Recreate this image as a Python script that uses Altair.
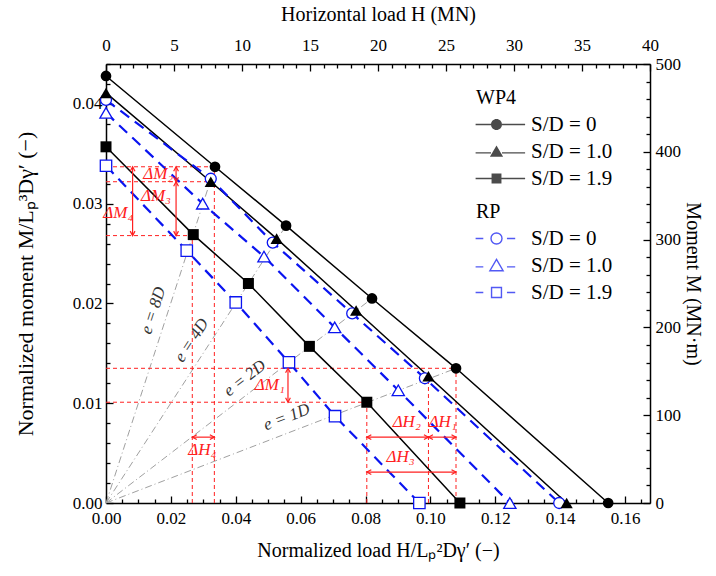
import altair as alt
import pandas as pd

FONT = "Liberation Serif"
BLUE = "#0a14f0"
RED = "#ff2020"

# ---------------- data (normalized H, normalized M) ----------------
wp_names = ["S/D = 0", "S/D = 1.0", "S/D = 1.9"]
rp_names = ["S/D = 0 ", "S/D = 1.0 ", "S/D = 1.9 "]

wp0_h = [0.0, 0.0336, 0.0555, 0.0820, 0.1079, 0.1548]
wp0_m = [0.0428, 0.0337, 0.0278, 0.0205, 0.0135, 0.0]
wp1_h = [0.0, 0.0323, 0.0526, 0.0771, 0.0994, 0.1420]
wp1_m = [0.0411, 0.0322, 0.0265, 0.0193, 0.0127, 0.0]
wp2_h = [0.0, 0.0269, 0.0439, 0.0627, 0.0804, 0.1091]
wp2_m = [0.0357, 0.0269, 0.0220, 0.0157, 0.0101, 0.0]

rp0_h = [0.0, 0.0323, 0.0514, 0.0759, 0.0983, 0.1397]
rp0_m = [0.0404, 0.0325, 0.0261, 0.0190, 0.0125, 0.0]
rp1_h = [0.0, 0.0298, 0.0487, 0.0705, 0.0901, 0.1245]
rp1_m = [0.0391, 0.0300, 0.0247, 0.0176, 0.0113, 0.0]
rp2_h = [0.0, 0.0249, 0.0400, 0.0564, 0.0706, 0.0966]
rp2_m = [0.0338, 0.0253, 0.0201, 0.0141, 0.0087, 0.0]

# eccentricity rays (origin -> end point)
ray_labels = ["e = 8D", "e = 4D", "e = 2D", "e = 1D"]
ray_h_end = [0.0336, 0.0555, 0.0820, 0.1079]
ray_m_end = [0.0337, 0.0278, 0.0205, 0.0135]
ray_lab_h = [0.0146, 0.0264, 0.0428, 0.0557]
ray_lab_m = [0.0193, 0.0163, 0.0125, 0.0086]
ray_lab_angle = [288, 303, 322, 339]

# red dashed guide segments
guide_x1 = [0.0, 0.0, 0.0, 0.0266, 0.0334, 0.0, 0.0, 0.0804, 0.0994, 0.1079]
guide_x2 = [0.0336, 0.0323, 0.0269, 0.0266, 0.0334, 0.1079, 0.0804, 0.0804, 0.0994, 0.1079]
guide_y1 = [0.0337, 0.0322, 0.0268, 0.0, 0.0, 0.0135, 0.0101, 0.0, 0.0, 0.0]
guide_y2 = [0.0337, 0.0322, 0.0268, 0.0268, 0.0337, 0.0135, 0.0101, 0.0101, 0.0127, 0.0135]

# red double arrows
arrow_names = ["ΔM₂", "ΔM₃", "ΔM₄", "ΔM₁", "ΔH₄", "ΔH₂", "ΔH₁", "ΔH₃"]
arrow_x1 = [0.0216, 0.0216, 0.0082, 0.0561, 0.0266, 0.0804, 0.0994, 0.0804]
arrow_x2 = [0.0216, 0.0216, 0.0082, 0.0561, 0.0334, 0.0994, 0.1079, 0.1079]
arrow_y1 = [0.0337, 0.0322, 0.0337, 0.0135, 0.0066, 0.0066, 0.0066, 0.0031]
arrow_y2 = [0.0322, 0.0268, 0.0268, 0.0101, 0.0066, 0.0066, 0.0066, 0.0031]
arrow_lab_h = [0.0161, 0.0154, 0.0038, 0.0505, 0.0297, 0.0927, 0.1038, 0.0908]
arrow_lab_m = [0.0330, 0.0308, 0.0291, 0.0118, 0.0053, 0.0081, 0.0081, 0.0046]

# axis ticks
x_ticks = [round(i * 0.005, 3) for i in range(34)]
y_ticks = [round(i * 0.002, 3) for i in range(23)]
top_ticks = list(range(0, 41))
right_ticks = list(range(0, 501, 20))

X_MAX = 0.1677
Y_MAX = 0.044

# ---------------- tables ----------------
rows = []
for grp, names, hs_list, ms_list in [
    ("WP4", wp_names, [wp0_h, wp1_h, wp2_h], [wp0_m, wp1_m, wp2_m]),
    ("RP", rp_names, [rp0_h, rp1_h, rp2_h], [rp0_m, rp1_m, rp2_m]),
]:
    for n, hs, ms in zip(names, hs_list, ms_list):
        for h, m in zip(hs, ms):
            rows.append({"group": grp, "series": n, "x": h, "y": m})
df = pd.DataFrame(rows)

df_rays = pd.DataFrame({"x": [0.0] * 4, "y": [0.0] * 4, "x2": ray_h_end, "y2": ray_m_end})
df_raylab = pd.DataFrame({"t": ray_labels, "x": ray_lab_h, "y": ray_lab_m, "a": ray_lab_angle})
df_guides = pd.DataFrame({"x": guide_x1, "x2": guide_x2, "y": guide_y1, "y2": guide_y2})
df_arrows = pd.DataFrame({"x": arrow_x1, "x2": arrow_x2, "y": arrow_y1, "y2": arrow_y2})
df_arrlab = pd.DataFrame({"t": arrow_names, "x": arrow_lab_h, "y": arrow_lab_m})

heads = []
for x1, x2, y1, y2 in zip(arrow_x1, arrow_x2, arrow_y1, arrow_y2):
    if x1 == x2:
        heads.append({"x": x1, "y": y1, "d": "up"})
        heads.append({"x": x2, "y": y2, "d": "down"})
    else:
        heads.append({"x": x1, "y": y1, "d": "left"})
        heads.append({"x": x2, "y": y2, "d": "right"})
df_heads = pd.DataFrame(heads)

# ---------------- scales / axes ----------------
xscale = alt.Scale(domain=[0, X_MAX], nice=False, zero=False)
yscale = alt.Scale(domain=[0, Y_MAX], nice=False, zero=False)

common_axis = dict(
    grid=False, labelFont=FONT, labelFontSize=17, titleFont=FONT,
    titleFontWeight="normal", domainColor="black", tickColor="black", domainWidth=1.5,
    tickWidth=1.3, labelColor="black", titleColor="black", labelFlush=False,
    labelOverlap=False,
)

x_axis = alt.Axis(
    orient="bottom", values=x_ticks, title="Normalized load H/Lₚ²Dγ′ (−)",
    labelExpr="round(datum.value*1000) % 20 === 0 ? format(datum.value, '.2f') : ''",
    tickSize={"condition": {"test": "round(datum.value*1000) % 20 === 0", "value": -7}, "value": -4},
    labelPadding=14, titlePadding=11, titleFontSize=20, **common_axis)
y_axis = alt.Axis(
    orient="left", values=y_ticks, title="Normalized moment M/Lₚ³Dγ′ (−)",
    labelExpr="round(datum.value*1000) % 10 === 0 ? format(datum.value, '.2f') : ''",
    tickSize={"condition": {"test": "round(datum.value*1000) % 10 === 0", "value": -7}, "value": -4},
    labelPadding=11, titlePadding=35, titleFontSize=22, **common_axis)
top_axis = alt.Axis(
    orient="top", values=top_ticks, title="Horizontal load H (MN)",
    labelExpr="datum.value % 5 === 0 ? format(datum.value, 'd') : ''",
    tickSize={"condition": {"test": "datum.value % 5 === 0", "value": -7}, "value": -4},
    labelPadding=17, titlePadding=9, titleFontSize=20, **common_axis)
right_axis = alt.Axis(
    orient="right", values=right_ticks, title="Moment M (MN·m)",
    labelExpr="datum.value % 100 === 0 ? format(datum.value, 'd') : ''",
    tickSize={"condition": {"test": "datum.value % 100 === 0", "value": -7}, "value": -4},
    labelPadding=12, titlePadding=2, titleFontSize=20, **common_axis)


def X(f="x"):
    return alt.X(f + ":Q", scale=xscale, axis=x_axis)


def Y(f="y"):
    return alt.Y(f + ":Q", scale=yscale, axis=y_axis)


# ---------------- layers ----------------
guides = alt.Chart(df_guides).mark_rule(color=RED, strokeDash=[4, 3], strokeWidth=1).encode(
    x=X(), x2="x2:Q", y=Y(), y2="y2:Q")

rays = alt.Chart(df_rays).mark_rule(color="#a0a0a0", strokeDash=[7, 3, 1, 3], strokeWidth=1).encode(
    x=X(), x2="x2:Q", y=Y(), y2="y2:Q")

ray_text = alt.Chart(df_raylab).mark_text(font=FONT, fontSize=17, fontStyle="italic", color="#333333").encode(
    x=X(), y=Y(), text="t:N", angle=alt.Angle("a:Q", scale=None))

wp_lines = alt.Chart(df).transform_filter("datum.group === 'WP4'").mark_line(
    color="black", strokeWidth=1.5).encode(x=X(), y=Y(), detail="series:N")
rp_lines = alt.Chart(df).transform_filter("datum.group === 'RP'").mark_line(
    color=BLUE, strokeWidth=2.2, strokeDash=[11, 7]).encode(x=X(), y=Y(), detail="series:N")

marker_layers = []
for n, shp, sz in zip(rp_names, ["circle", "triangle-up", "square"], [120, 150, 130]):
    marker_layers.append(
        alt.Chart(df).transform_filter(alt.datum.series == n).mark_point(
            shape=shp, size=sz, filled=True, fill="white", stroke=BLUE, strokeWidth=1.3, opacity=1
        ).encode(x=X(), y=Y()))
for n, shp, sz in zip(wp_names, ["circle", "triangle-up", "square"], [115, 150, 121]):
    marker_layers.append(
        alt.Chart(df).transform_filter(alt.datum.series == n).mark_point(
            shape=shp, size=sz, filled=True, color="black", opacity=1
        ).encode(x=X(), y=Y()))

arrows = alt.Chart(df_arrows).mark_rule(color=RED, strokeWidth=1.2).encode(
    x=X(), x2="x2:Q", y=Y(), y2="y2:Q")

head_paths = {
    "up": "M-0.8,1.5L0,0L0.8,1.5",
    "down": "M-0.8,-1.5L0,0L0.8,-1.5",
    "left": "M1.5,-0.8L0,0L1.5,0.8",
    "right": "M-1.5,-0.8L0,0L-1.5,0.8",
}
head_layers = []
for d, p in head_paths.items():
    head_layers.append(
        alt.Chart(df_heads).transform_filter(alt.datum.d == d).mark_point(
            shape=p, size=36, filled=False, stroke=RED, strokeWidth=1.2, opacity=1
        ).encode(x=X(), y=Y()))

arrow_text = alt.Chart(df_arrlab).mark_text(font=FONT, fontSize=17, fontStyle="italic", color=RED).encode(
    x=X(), y=Y(), text="t:N")

# legend driver layers (empty data, explicit scale domains)
# WP4 stubs are thin filled bars (legend symbols of filled marks have no stroke)
wp_paths = [
    "M-3.8,-0.13L-1,-0.13L-1,0.13L-3.8,0.13ZM1,-0.13L5.2,-0.13L5.2,0.13L1,0.13Z"
    "M-1,0A1,1 0 1,0 1,0A1,1 0 1,0 -1,0Z",
    "M-3.8,0.12L-1,0.12L-1,0.38L-3.8,0.38ZM1,0.12L5.2,0.12L5.2,0.38L1,0.38Z"
    "M0,-1.1L1.2,0.95L-1.2,0.95Z",
    "M-3.8,-0.13L-0.9,-0.13L-0.9,0.13L-3.8,0.13ZM0.9,-0.13L5.2,-0.13L5.2,0.13L0.9,0.13Z"
    "M-0.9,-0.9L0.9,-0.9L0.9,0.9L-0.9,0.9Z",
]
rp_paths = [
    "M-3.8,0L-2.4,0M1.9,0L3.4,0M-1,0A1,1 0 1,0 1,0A1,1 0 1,0 -1,0Z",
    "M-3.8,0.25L-2.4,0.25M1.9,0.25L3.4,0.25M0,-1.1L1.2,0.95L-1.2,0.95Z",
    "M-3.8,0L-2.4,0M1.9,0L3.4,0M-0.9,-0.9L0.9,-0.9L0.9,0.9L-0.9,0.9Z",
]
leg_common = dict(
    orient="none", symbolSize=121, labelFont=FONT, labelFontSize=21, titleFont=FONT,
    titleFontSize=20, titleFontWeight="normal", labelColor="black", titleColor="black",
    symbolOffset=10, labelOffset=24, rowPadding=5, titlePadding=6, labelLimit=300,
)
leg_wp = alt.Chart(df).transform_filter("false").mark_point(
    filled=True, color="black").encode(
    x=X(), y=Y(),
    shape=alt.Shape("series:N", scale=alt.Scale(domain=wp_names, range=wp_paths),
                    legend=alt.Legend(title="WP4", legendX=370, legendY=24, **leg_common)))
leg_rp = alt.Chart(df).transform_filter("false").mark_point(
    filled=False, color=BLUE, strokeWidth=1.4).encode(
    x=X(), y=Y(),
    shape=alt.Shape("series:N", scale=alt.Scale(domain=rp_names, range=rp_paths),
                    legend=alt.Legend(title="RP", legendX=370, legendY=138,
                                      symbolStrokeWidth=1.4, **leg_common)))

main = alt.layer(
    rays, guides, wp_lines, rp_lines, *marker_layers, arrows, *head_layers,
    arrow_text, ray_text, leg_wp, leg_rp,
).resolve_scale(shape="independent")

# secondary axes: H (MN) on top, M (MN·m) on right
sec = alt.Chart(df).transform_filter("false").mark_point().encode(
    x=alt.X("x:Q", scale=alt.Scale(domain=[0, 40], nice=False, zero=False), axis=top_axis),
    y=alt.Y("y:Q", scale=alt.Scale(domain=[0, 500], nice=False, zero=False), axis=right_axis),
)

chart = alt.layer(main, sec).resolve_scale(x="independent", y="independent").properties(
    width=544, height=439,
    autosize=alt.AutoSizeParams(type="none"),
    padding={"left": 106, "top": 64, "right": 66, "bottom": 73},
    background="white",
).configure(font=FONT).configure_view(stroke=None).configure_axis(
    labelFont=FONT, titleFont=FONT
).configure_legend(labelFont=FONT, titleFont=FONT)

chart.save("out.html", embed_options={"renderer": "svg", "actions": False})
